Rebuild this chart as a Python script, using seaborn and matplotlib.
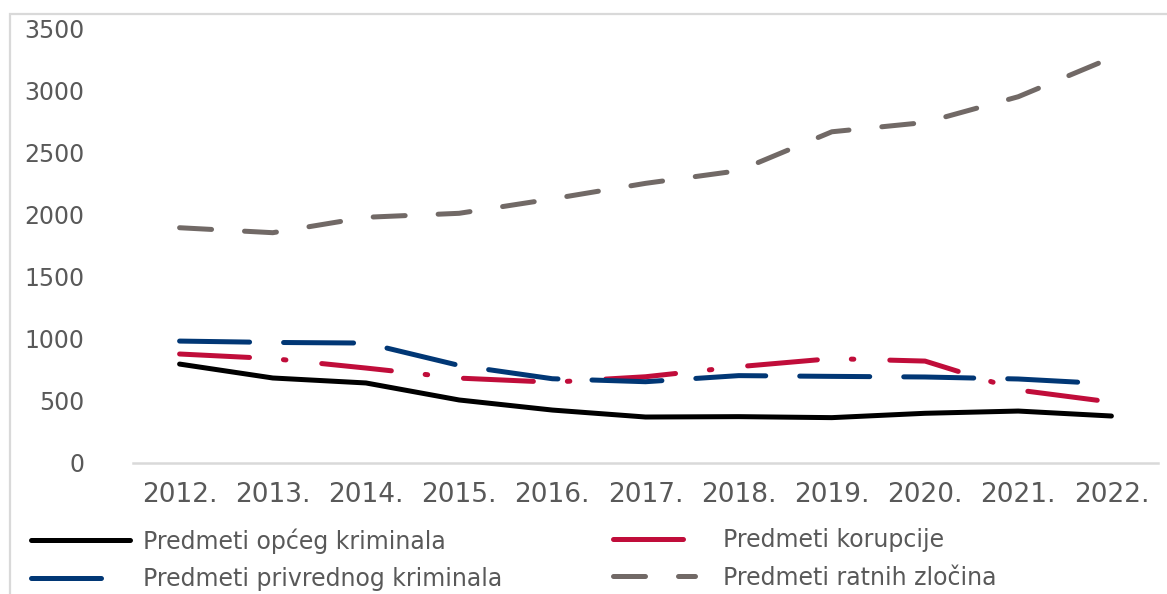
import matplotlib
matplotlib.use("Agg")
import matplotlib.pyplot as plt
import seaborn as sns
import pandas as pd
from matplotlib.patches import Rectangle

years = ["2012.", "2013.", "2014.", "2015.", "2016.", "2017.", "2018.", "2019.", "2020.", "2021.", "2022."]
opci = [796, 684, 644, 507, 426, 370, 373, 365, 400, 418, 378]
korupcija = [877, 840, 764, 683, 650, 694, 775, 840, 820, 587, 490]
privredni = [981, 970, 965, 785, 678, 654, 703, 697, 692, 676, 636]
ratni = [1893, 1853, 1977, 2009, 2125, 2250, 2352, 2665, 2740, 2947, 3260]

labels = ["Predmeti općeg kriminala", "Predmeti korupcije",
          "Predmeti privrednog kriminala", "Predmeti ratnih zločina"]

sns.set_theme(style="white")
plt.rcParams["font.family"] = ["DejaVu Sans"]
plt.rcParams["lines.solid_capstyle"] = "round"
plt.rcParams["lines.dash_capstyle"] = "round"
plt.rcParams["lines.scale_dashes"] = True

fig = plt.figure(figsize=(11.67, 5.94), dpi=100)
W, H = 1167, 594
ax = fig.add_axes([133 / W, (H - 463) / H, (1158 - 133) / W, (463 - 28) / H])

idx = list(range(len(years)))
series = [
    (opci, "#000000", "-"),
    (korupcija, "#C00D3A", (0, (14, 6.8, 0.5, 7.2))),
    (privredni, "#013775", (0, (14, 6.8))),
    (ratni, "#716966", (0, (6.4, 6.6))),
]
lines = {}
for (vals, col, ls), lab in zip(series, labels):
    df = pd.DataFrame({"x": idx, "y": vals})
    sns.lineplot(data=df, x="x", y="y", ax=ax, color=col, lw=3.6, linestyle=ls,
                 label=lab, legend=False)
    lines[lab] = ax.get_lines()[-1]

ax.set_xlim(-0.5, len(years) - 0.5)
ax.set_ylim(0, 3500)
ax.set_yticks(range(0, 3501, 500))
ax.set_xticks(idx)
ax.set_xticklabels(years)
ax.set_xlabel("")
ax.set_ylabel("")
ax.tick_params(axis="y", length=0, pad=35, labelsize=17, labelcolor="#595959")
ax.tick_params(axis="x", length=0, pad=14, labelsize=19, labelcolor="#595959")
for s in ["top", "right", "left"]:
    ax.spines[s].set_visible(False)
ax.spines["bottom"].set_color("#D9D9D9")
ax.spines["bottom"].set_linewidth(1.8)
ax.grid(False)

# figure border
fig.patches.append(Rectangle((10 / W, -0.1), 1.2, 1 - 14 / H + 0.1, transform=fig.transFigure,
                             fill=False, edgecolor="#D9D9D9", lw=1.6, zorder=0))

common = dict(loc="upper left", frameon=False, fontsize=17, labelcolor="#595959",
              borderpad=0, borderaxespad=0, labelspacing=0.58)
leg1 = fig.legend([lines[labels[0]], lines[labels[2]]], [labels[0], labels[2]],
                  bbox_to_anchor=(30.5 / W, 1 - 528 / H), handlelength=4.2,
                  handletextpad=0.55, **common)
leg2 = fig.legend([lines[labels[1]], lines[labels[3]]], [labels[1], labels[3]],
                  bbox_to_anchor=(612.5 / W, 1 - 528 / H), handlelength=3.5,
                  handletextpad=1.2, **common)

fig.savefig("out.png", dpi=100)
